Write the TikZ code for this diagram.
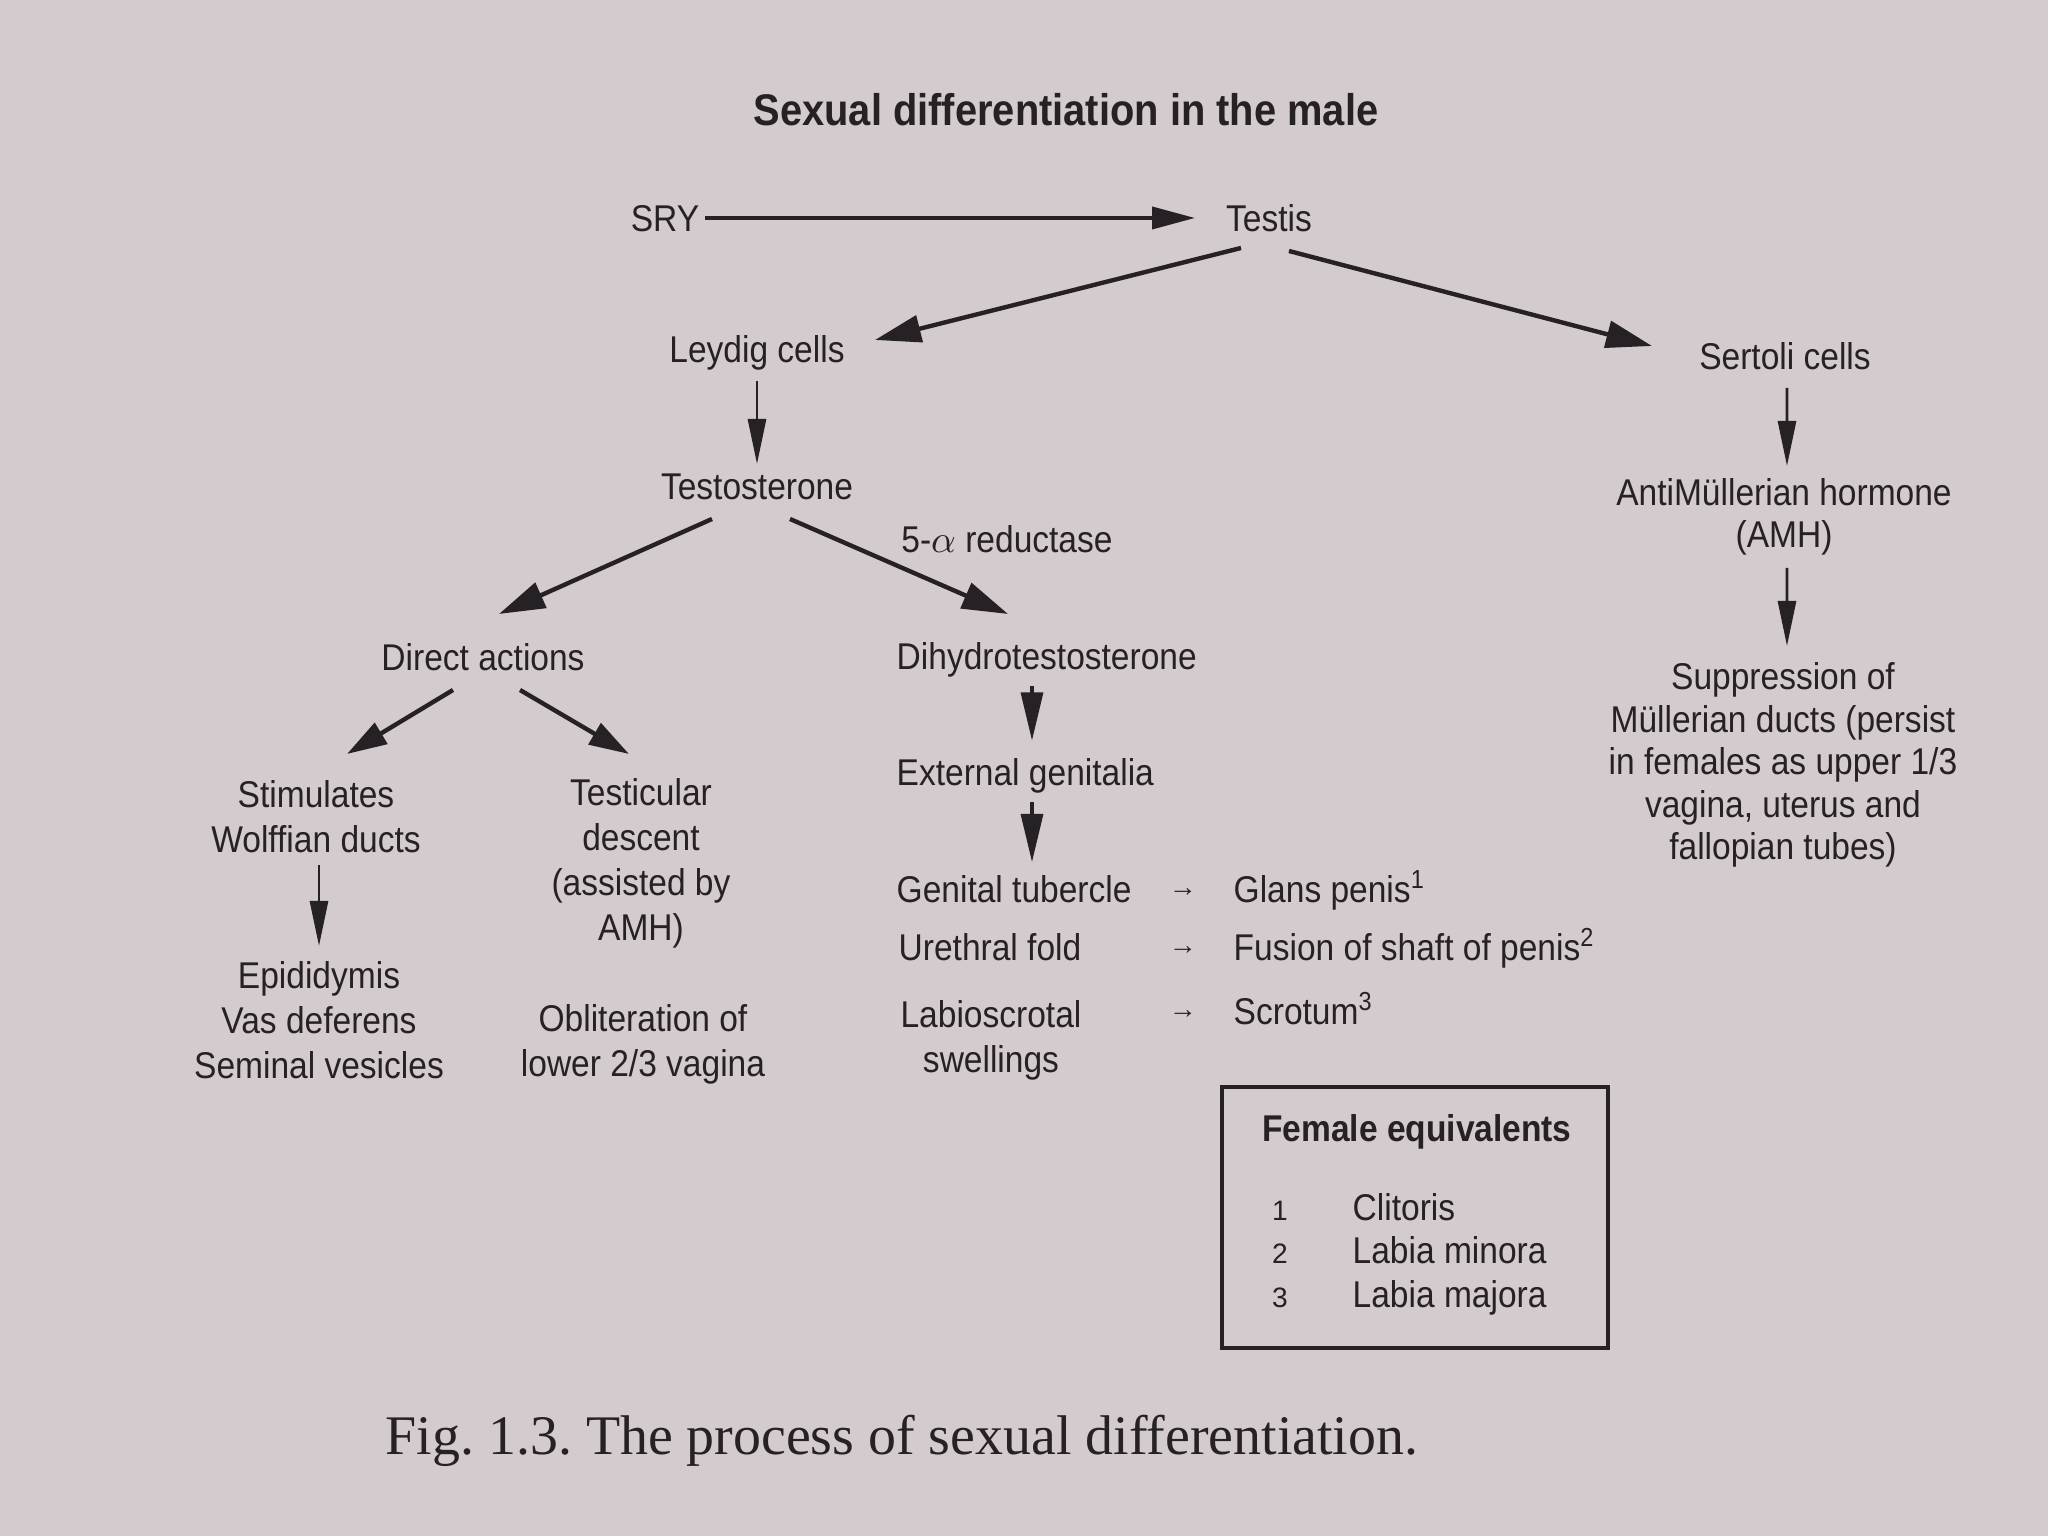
\documentclass[tikz,border=0pt]{standalone}
\usepackage{fontspec}
\setmainfont{Liberation Sans}
\newfontfamily\condfont[FakeStretch=0.9]{Liberation Sans}
\newfontfamily\capfont{Liberation Serif}
\usetikzlibrary{arrows.meta,calc}
\definecolor{paper}{RGB}{211,203,206}
\definecolor{ink}{RGB}{38,33,36}
\begin{document}
\begin{tikzpicture}[x=1cm,y=1cm,
  txt/.style={text=ink, inner sep=0pt, align=center, font=\condfont\fontsize{10.6}{12.8}\selectfont},
  row/.style={txt, text height=0.27cm, text depth=0.08cm},
  ttl/.style={text=ink, inner sep=0pt, font=\condfont\bfseries\fontsize{12.6}{15}\selectfont},
  conn/.style={draw=ink, line width=1.25pt, -{Triangle[length=0.46cm,width=0.27cm]}},
  vconn/.style={draw=ink, line width=0.8pt, -{Triangle[length=0.45cm,width=0.18cm]}},
  wconn/.style={draw=ink, line width=0.9pt, -{Triangle[length=0.48cm,width=0.22cm]}},
  smallarrow/.style={text=ink, inner sep=0pt, font=\fontsize{8}{9}\selectfont}
]
\useasboundingbox (0,0) rectangle (20.48,15.36);
\fill[paper] (0,0) rectangle (20.48,15.36);

% title
\node[ttl] (title) at (10.66,14.26) {Sexual differentiation in the male};

% nodes
\node[row] (sry) at (6.65,13.14) {SRY};
\node[row] (testis) at (12.69,13.14) {Testis};
\node[row] (leydig) at (7.57,11.83) {Leydig cells};
\node[row] (sertoli) at (17.85,11.76) {Sertoli cells};
\node[row] (testo) at (7.57,10.46) {Testosterone};
\node[txt, font=\condfont\fontsize{10.6}{11.9}\selectfont] (amh) at (17.84,10.19) {AntiMüllerian hormone\\(AMH)};
\node[txt, font=\condfont\fontsize{10.6}{12.1}\selectfont] (supp) at (17.83,7.71) {Suppression of\\Müllerian ducts (persist\\in females as upper 1/3\\vagina, uterus and\\fallopian tubes)};
\node[row] (red) at (10.07,9.93) {5-$\alpha$ reductase};
\node[row] (direct) at (4.83,8.75) {Direct actions};
\node[row, anchor=west] (dht) at (8.96,8.76) {Dihydrotestosterone};
\node[txt] (stim) at (3.16,7.19) {Stimulates\\Wolffian ducts};
\node[txt] (testic) at (6.41,6.73) {Testicular\\descent\\(assisted by\\AMH)};
\node[txt] (epid) at (3.19,5.16) {Epididymis\\Vas deferens\\Seminal vesicles};
\node[txt] (oblit) at (6.43,4.92) {Obliteration of\\lower 2/3 vagina};
\node[row, anchor=west] (ext) at (8.96,7.60) {External genitalia};
\node[row, anchor=west] (gt) at (8.96,6.43) {Genital tubercle};
\node[row, anchor=west] (uf) at (8.98,5.85) {Urethral fold};
\node[txt] (labio) at (9.91,4.96) {Labioscrotal\\swellings};
\node[smallarrow] (a1) at (11.83,6.43) {→};
\node[smallarrow] (a2) at (11.83,5.85) {→};
\node[smallarrow] (a3) at (11.83,5.21) {→};
\node[row, anchor=west] (glans) at (12.33,6.43) {Glans penis\textsuperscript{1}};
\node[row, anchor=west] (fusion) at (12.33,5.85) {Fusion of shaft of penis\textsuperscript{2}};
\node[row, anchor=west] (scrot) at (12.33,5.21) {Scrotum\textsuperscript{3}};

% female equivalents box
\node[draw=ink, line width=0.9pt, minimum width=3.86cm, minimum height=2.61cm, inner sep=0pt] (box) at (14.15,3.185) {};
\node[row, font=\condfont\bfseries\fontsize{10.6}{12.8}\selectfont] (fem) at (14.17,4.04) {Female equivalents};
\node[smallarrow] (n1) at (12.80,3.25) {1};
\node[smallarrow] (n2) at (12.80,2.82) {2};
\node[smallarrow] (n3) at (12.80,2.38) {3};
\node[row, anchor=west] (clit) at (13.52,3.25) {Clitoris};
\node[row, anchor=west] (lmin) at (13.52,2.82) {Labia minora};
\node[row, anchor=west] (lmaj) at (13.52,2.38) {Labia majora};

% caption
\node[text=ink, inner sep=0pt, font=\capfont\fontsize{15.9}{19}\selectfont] (cap) at (9.02,0.95) {\frenchspacing Fig. 1.3. The process of sexual differentiation.};

% connectors
\draw[conn, line width=1.1pt, -{Triangle[length=0.43cm,width=0.22cm]}] ($(sry)+(0.40,0.04)$) -- ($(testis)+(-0.74,0.04)$);
\draw[conn] ($(testis)+(-0.28,-0.26)$) -- ($(leydig)+(1.18,0.13)$);
\draw[conn] ($(testis)+(0.20,-0.29)$) -- ($(sertoli)+(-1.33,0.14)$);
\draw[vconn] ($(leydig)+(0,-0.28)$) -- ($(testo)+(0,0.26)$);
\draw[vconn] ($(sertoli)+(0.02,-0.28)$) -- ($(amh)+(0.03,0.51)$);
\draw[vconn] ($(amh)+(0.03,-0.51)$) -- ($(supp)+(0.04,1.19)$);
\draw[conn] ($(testo)+(-0.45,-0.29)$) -- ($(direct)+(0.16,0.47)$);
\draw[conn] ($(testo)+(0.33,-0.29)$) -- ($(dht.west)+(1.12,0.46)$);
\draw[conn, -{Triangle[length=0.4cm,width=0.24cm]}] ($(direct)+(-0.30,-0.29)$) -- ($(stim)+(0.31,0.63)$);
\draw[conn, -{Triangle[length=0.4cm,width=0.24cm]}] ($(direct)+(0.37,-0.29)$) -- ($(testic)+(-0.12,1.09)$);
\draw[vconn] ($(stim)+(0.03,-0.48)$) -- ($(epid)+(0,0.74)$);
\draw[wconn] ($(dht.west)+(1.36,-0.26)$) -- ($(ext.west)+(1.36,0.355)$);
\draw[wconn] ($(ext.west)+(1.36,-0.26)$) -- ($(gt.west)+(1.36,0.31)$);
\end{tikzpicture}
\end{document}
